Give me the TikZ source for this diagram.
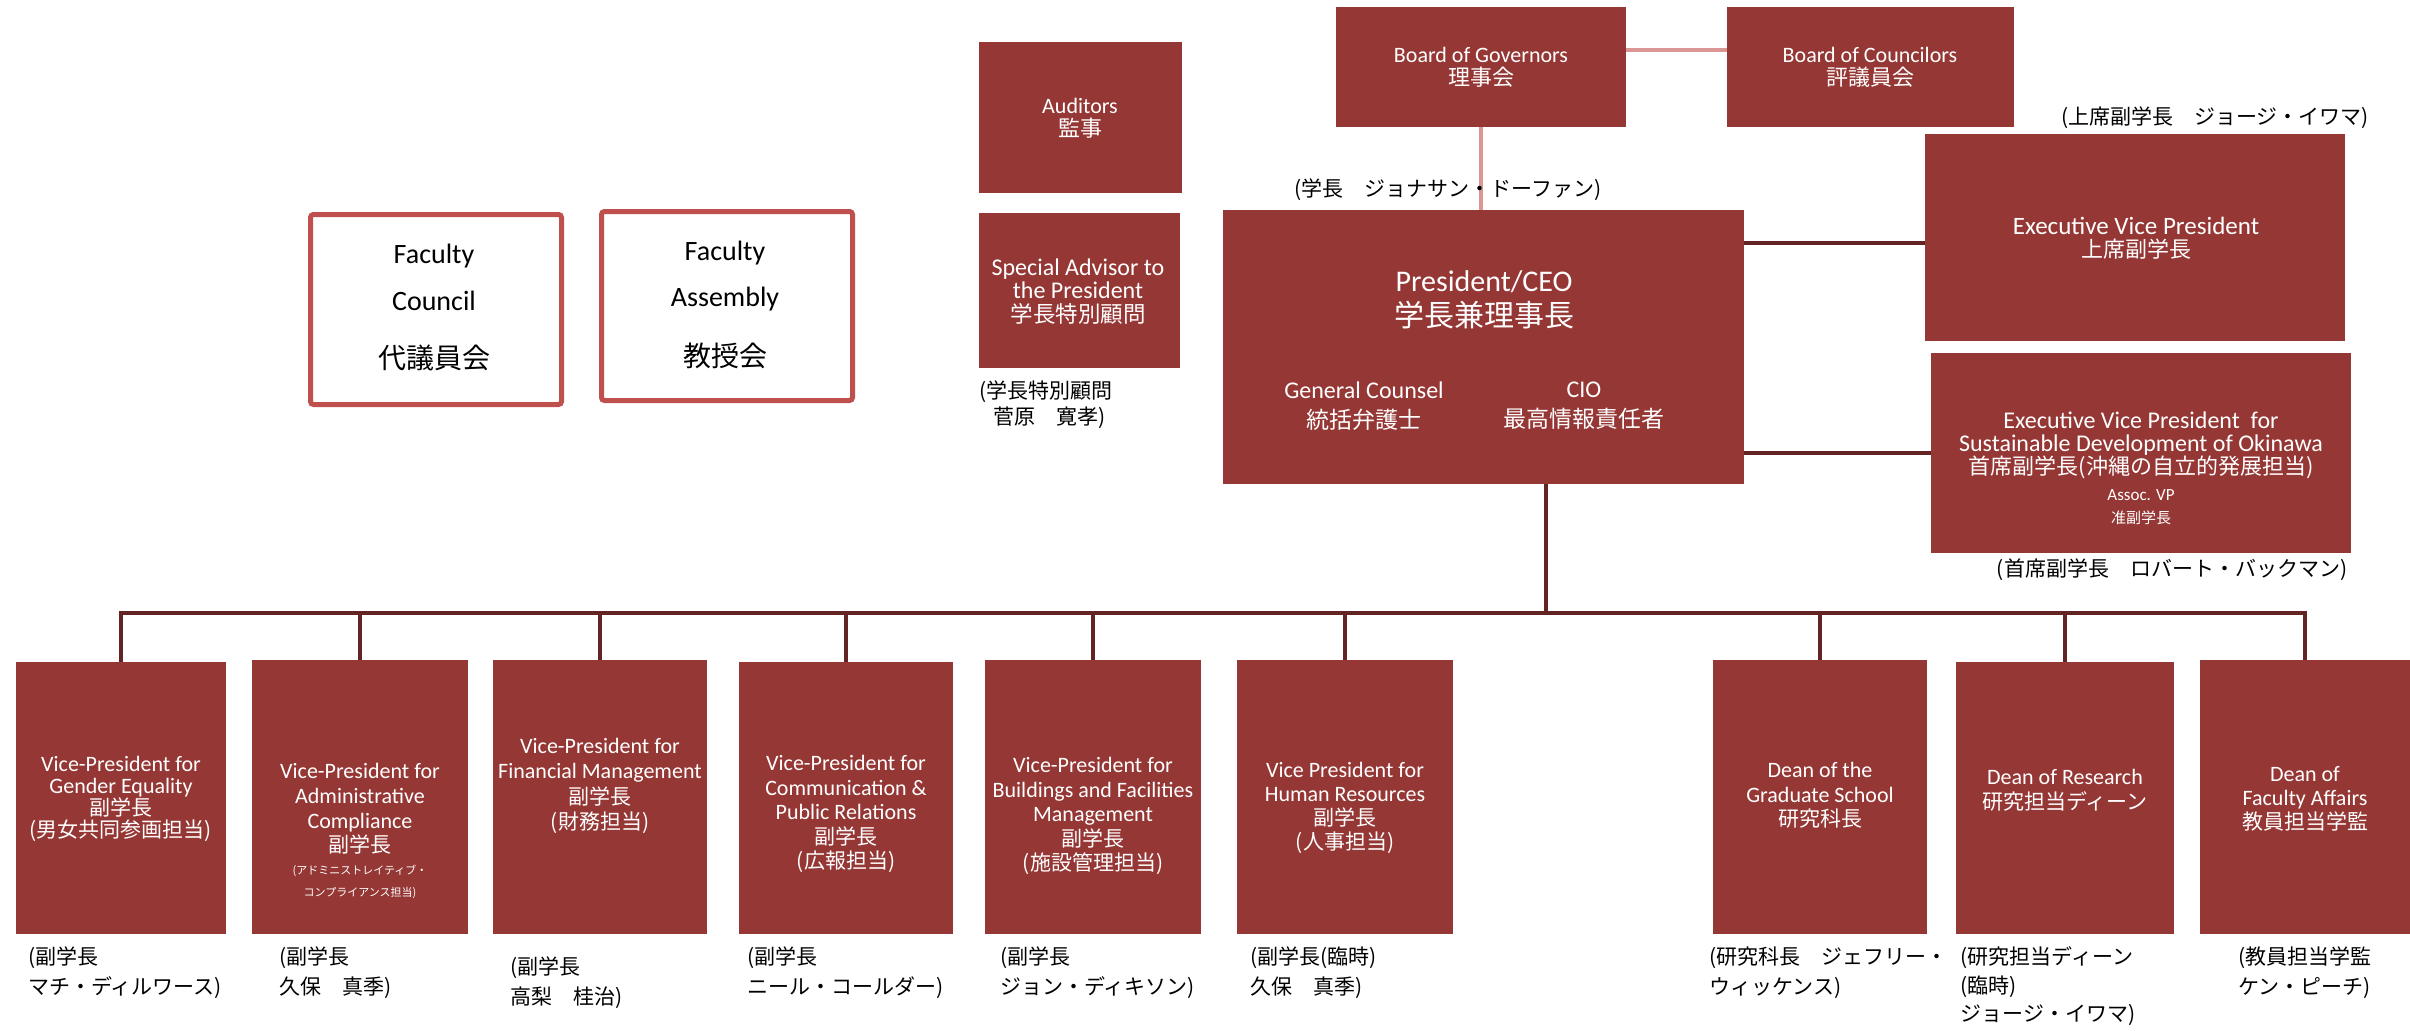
\documentclass[tikz,border=0pt]{standalone}
\usepackage{fontspec}
\setmainfont{Carlito}
\newfontfamily\jp{Noto Sans CJK JP}
\newcommand\fs[2]{\fontsize{#1}{#2}\selectfont\lineskiplimit=-20pt\relax}
\definecolor{boxred}{RGB}{149,55,53}
\definecolor{facred}{RGB}{192,80,77}
\definecolor{linedark}{RGB}{99,37,35}
\definecolor{linepink}{RGB}{217,150,148}
\newcommand\orgbox[6]{\node[#1, minimum width={(#5-#3)*0.5pt}, minimum height={(#6-#4)*0.5pt}] (#2) at ({(#3+#5)/2},{(#4+#6)/2}) {};}
\tikzset{
  rbox/.style={rectangle, fill=boxred, draw=none, inner sep=0pt, outer sep=0pt},
  fbox/.style={rectangle, draw=facred, line width=2.5pt, fill=white, rounded corners=1.5pt, inner sep=0pt, outer sep=0pt},
  wtxt/.style={text=white, align=center, inner sep=0pt},
  btxt/.style={text=black, align=left, inner sep=0pt, anchor=west},
  ctxt/.style={text=black, align=center, inner sep=0pt},
  conn/.style={draw=linedark, line width=2pt},
  pconn/.style={draw=linepink, line width=1.7pt},
}
\begin{document}
\begin{tikzpicture}[x=0.5pt,y=-0.5pt]
\useasboundingbox (0,0) rectangle (2410,1030);

% ---------- boxes ----------
\orgbox{rbox}{gov}{1336}{7}{1626}{127}
\orgbox{rbox}{coun}{1727}{7}{2014}{127}
\orgbox{rbox}{aud}{979}{42}{1182}{193}
\orgbox{rbox}{adv}{979}{213}{1180}{368}
\orgbox{rbox}{pres}{1223}{210}{1744}{484}
\orgbox{rbox}{evp}{1925}{134}{2345}{341}
\orgbox{rbox}{evpo}{1931}{353}{2351}{553}
\orgbox{fbox}{fcou}{310.5}{214.5}{561.5}{404.5}
\orgbox{fbox}{fasm}{601.5}{211.5}{852.5}{400.5}

\orgbox{rbox}{b1}{16}{662}{226}{934}
\orgbox{rbox}{b2}{252}{660}{468}{934}
\orgbox{rbox}{b3}{493}{660}{707}{934}
\orgbox{rbox}{b4}{739}{662}{953}{934}
\orgbox{rbox}{b5}{985}{660}{1201}{934}
\orgbox{rbox}{b6}{1237}{660}{1453}{934}
\orgbox{rbox}{b7}{1713}{660}{1927}{934}
\orgbox{rbox}{b8}{1956}{662}{2174}{934}
\orgbox{rbox}{b9}{2200}{660}{2410}{934}

% ---------- connectors ----------
\draw[pconn] ([yshift=8.5pt]gov.east) -- ([yshift=8.5pt]coun.west);
\draw[pconn] (gov.south) -- (gov.south |- pres.north);
\path ([yshift=-2.75pt]evp.west) coordinate (e1);
\draw[conn] (pres.east |- e1) -- (e1);
\draw[conn] (pres.east |- evpo.west) -- (evpo.west);
\coordinate (busP) at (1546,613);
\draw[conn] (pres.south -| busP) -- (busP);
\draw[conn] (b1.north) -- (b1.north |- busP) -- (b9.north |- busP) -- (b9.north);
\foreach \b in {b2,b3,b4,b5,b6,b7,b8}{
  \draw[conn] (\b.north |- busP) -- (\b.north);
}

% ---------- texts in top boxes ----------
\node[wtxt, font=\fs{11}{11.5}] at (1481,67) {Board of Governors\\{\jp 理事会}};
\node[wtxt, font=\fs{11}{11.5}] at (1870,67) {Board of Councilors\\{\jp 評議員会}};
\node[wtxt, font=\fs{11}{11.5}] at (1080,118) {Auditors\\{\jp 監事}};
\node[wtxt, font=\fs{12}{11.75}] at (1078,291.5) {Special Advisor to\\the President\\{\jp\fs{11.25}{11.75}学長特別顧問}};
\node[wtxt, font=\fs{15}{17.5}] at (1484,299.5) {President/CEO\\{\jp 学長兼理事長}};
\node[wtxt, font=\fs{12}{15}] at (1364,406) {General Counsel\\{\jp\fs{11.5}{15}統括弁護士}};
\node[wtxt, font=\fs{12}{15}] at (1584,406) {CIO\\{\jp\fs{11.5}{15}最高情報責任者}};
\node[wtxt, font=\fs{12.5}{11.5}] at (2136,238) {Executive Vice President\\{\jp\fs{11}{11.5}上席副学長}};
\node[wtxt, font=\fs{12}{11.5}] at (2141,445.5) {Executive Vice President~ for\\Sustainable Development of Okinawa\\{\jp\fs{11}{11.5}首席副学長(沖縄の自立的発展担当)}};
\node[wtxt, font=\fs{8.5}{11.5}] at (2141,507.5) {Assoc. VP\\{\jp\fs{7.5}{11.5}准副学長}};

% ---------- faculty boxes ----------
\node[ctxt, font=\fs{14}{23.5}] at (434,307.5) {Faculty\\Council\\[5.5pt]{\jp 代議員会}};
\node[ctxt, font=\fs{14}{23}] at (725,305) {Faculty\\Assembly\\[7pt]{\jp 教授会}};

% ---------- labels outside ----------
\node[ctxt, font={\jp\fs{10.5}{13}}] at (1448,190) {(学長　ジョナサン・ドーファン)};
\node[ctxt, font={\jp\fs{10.5}{13}}] at (2215,118) {(上席副学長　ジョージ・イワマ)};
\node[ctxt, font={\jp\fs{10.5}{13}}] at (2172,570) {(首席副学長　ロバート・バックマン)};
\node[btxt, font={\jp\fs{10.5}{13}}] at (979,405) {(学長特別顧問\\\hspace*{7pt}菅原　寛孝)};

% ---------- bottom box texts ----------
\node[wtxt, font=\fs{11}{11}] at (121,798.5) {Vice-President for\\Gender Equality\\{\jp\fs{10.5}{11}副学長}\\{\jp\fs{10.5}{11}(男女共同参画担当)}};
\node[wtxt, font=\fs{11}{12.3}] at (360,809) {Vice-President for\\Administrative\\Compliance\\{\jp\fs{10.5}{12.3}副学長}};
\node[wtxt, font={\jp\fs{5.5}{11}}] at (360,882) {(アドミニストレイティブ・\\コンプライアンス担当)};
\node[wtxt, font=\fs{11}{12.7}] at (600,786) {Vice-President for\\Financial Management\\{\jp\fs{10.5}{12.7}副学長}\\{\jp\fs{10.5}{12.7}(財務担当)}};
\node[wtxt, font=\fs{11}{12.25}] at (846,814) {Vice-President for\\Communication \&\\Public Relations\\{\jp\fs{10.5}{12.25}副学長}\\{\jp\fs{10.5}{12.25}(広報担当)}};
\node[wtxt, font=\fs{11}{12.25}] at (1093,816) {Vice-President for\\Buildings and Facilities\\Management\\{\jp\fs{10.5}{12.25}副学長}\\{\jp\fs{10.5}{12.25}(施設管理担当)}};
\node[wtxt, font=\fs{11}{12}] at (1345,808) {Vice President for\\Human Resources\\{\jp\fs{10.5}{12}副学長}\\{\jp\fs{10.5}{12}(人事担当)}};
\node[wtxt, font=\fs{11}{12.25}] at (1820,795.5) {Dean of the\\Graduate School\\{\jp\fs{10.5}{12.25}研究科長}};
\node[wtxt, font=\fs{11}{12.5}] at (2065,790.5) {Dean of Research\\{\jp\fs{10.5}{12.5}研究担当ディーン}};
\node[wtxt, font=\fs{11}{12}] at (2305,799) {Dean of\\Faculty Affairs\\{\jp\fs{10.5}{12}教員担当学監}};

% ---------- bottom labels ----------
\node[btxt, font={\jp\fs{10.5}{15}}] at (28,973) {(副学長\\マチ・ディルワース)};
\node[btxt, font={\jp\fs{10.5}{15}}] at (279,973) {(副学長\\久保　真季)};
\node[btxt, font={\jp\fs{10.5}{15}}] at (510,983) {(副学長\\高梨　桂治)};
\node[btxt, font={\jp\fs{10.5}{15}}] at (747,973) {(副学長\\ニール・コールダー)};
\node[btxt, font={\jp\fs{10.5}{15}}] at (1000,973) {(副学長\\ジョン・ディキソン)};
\node[btxt, font={\jp\fs{10.5}{15}}] at (1250,973) {(副学長(臨時)\\久保　真季)};
\node[btxt, font={\jp\fs{10.5}{15}}] at (1709,973) {(研究科長　ジェフリー・\\ウィッケンス)};
\node[btxt, font={\jp\fs{10.5}{14.25}}] at (1960,986.5) {(研究担当ディーン\\(臨時)\\ジョージ・イワマ)};
\node[btxt, font={\jp\fs{10.5}{15}}] at (2238,973) {(教員担当学監\\ケン・ピーチ)};
\end{tikzpicture}
\end{document}
